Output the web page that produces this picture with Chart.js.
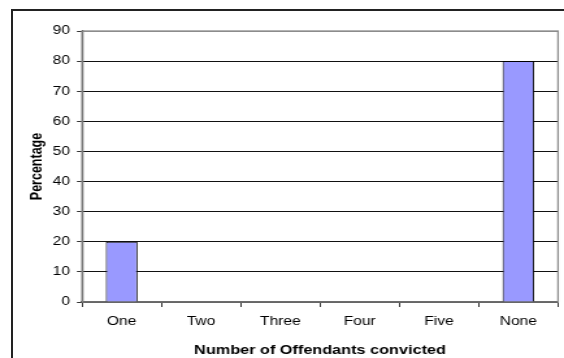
<!DOCTYPE html>
<html>
<head>
<meta charset="utf-8">
<script src="https://cdn.jsdelivr.net/npm/chart.js@4"></script>
<style>
    html, body { margin: 0; padding: 0; background: #fff; overflow: hidden; }
    #wrap { position: relative; width: 564px; height: 358px; }
    #frame { position: absolute; left: 11px; top: 9px; width: 600px; height: 400px; border: 2px solid #222; box-sizing: border-box; }
    /* the original chart is stretched sideways, so the canvas is drawn narrow and widened by CSS */
    canvas { position: absolute; left: 0; top: 0; width: 564px !important; height: 358px !important; }
</style>
</head>
<body>
<div id="wrap">
    <div id="frame"></div>
    <canvas id="chart" width="434" height="358"></canvas>
</div>
<script>
// Chart data
const categories = ['One', 'Two', 'Three', 'Four', 'Five', 'None'];
const percentages = [20, 0, 0, 0, 0, 80];
const yTicks = [0, 10, 20, 30, 40, 50, 60, 70, 80, 90];

const FONT = 'Arial, "Liberation Sans", sans-serif';

// Grey border round the plot area (top and right show, axes draw over the rest)
const plotBorder = {
    id: 'plotBorder',
    beforeDatasetsDraw(chart) {
        const a = chart.chartArea;
        const ctx = chart.ctx;
        ctx.save();
        ctx.strokeStyle = '#8c8c8c';
        ctx.lineWidth = 1.3;
        ctx.strokeRect(a.left, a.top, a.right - a.left, a.bottom - a.top);
        ctx.restore();
    }
};

const ctx = document.getElementById('chart').getContext('2d');
new Chart(ctx, {
    type: 'bar',
    data: {
        labels: categories,
        datasets: [{
            label: 'Percentage',
            data: percentages,
            backgroundColor: '#9999ff',
            borderColor: '#000',
            borderWidth: 1,
            barPercentage: 0.4,
            categoryPercentage: 1
        }]
    },
    options: {
        responsive: false,
        animation: false,
        devicePixelRatio: 1,
        layout: { padding: { left: 0, right: 4.6, top: 31, bottom: 0 } },
        plugins: {
            legend: { display: false },
            tooltip: { enabled: false }
        },
        scales: {
            x: {
                afterFit(scale) { scale.height = 56; },
                grid: {
                    offset: true,
                    drawOnChartArea: false,
                    tickLength: 5,
                    tickColor: '#333'
                },
                border: { color: '#333', width: 1.5 },
                ticks: {
                    color: '#000',
                    padding: 7,
                    font: { family: FONT, size: 12 }
                },
                title: {
                    display: true,
                    text: 'Number of Offendants convicted',
                    color: '#000',
                    padding: { top: 7.5, bottom: 0 },
                    font: { family: FONT, size: 12.5, weight: 'bold' }
                }
            },
            y: {
                min: 0,
                max: 90,
                afterFit(scale) { scale.width = 63.1; },
                afterBuildTicks(scale) { scale.ticks = yTicks.map(v => ({ value: v })); },
                grid: {
                    color: c => (c.tick && c.tick.value === 90) ? '#8c8c8c' : '#111',
                    lineWidth: 1,
                    tickLength: 3.9,
                    tickColor: '#333'
                },
                border: { color: '#333', width: 1.2 },
                ticks: {
                    color: '#000',
                    padding: 5.4,
                    font: { family: FONT, size: 12 }
                },
                title: {
                    display: true,
                    text: 'Percentage',
                    color: '#000',
                    padding: { top: 21, bottom: 0 },
                    font: { family: FONT, size: 12.5, weight: 'bold' }
                }
            }
        }
    },
    plugins: [plotBorder]
});
</script>
</body>
</html>
